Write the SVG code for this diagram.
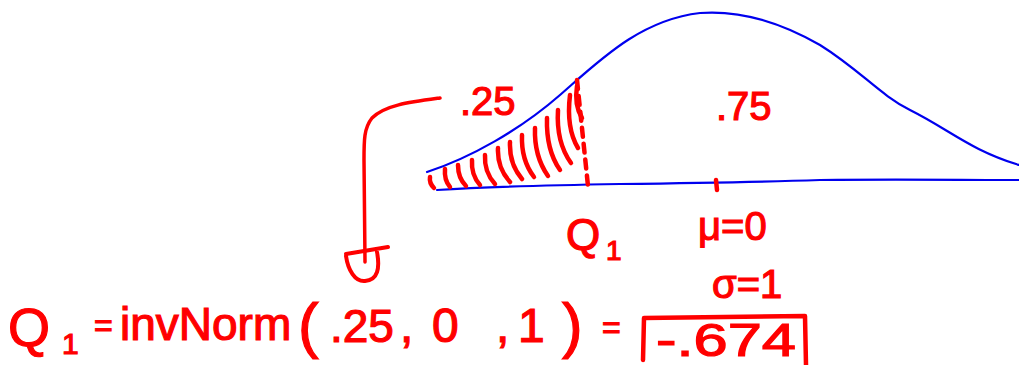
<svg xmlns="http://www.w3.org/2000/svg" width="1019" height="365" viewBox="0 0 1019 365">
<style>
.t{font-family:"Liberation Sans",Arial,sans-serif;fill:#ff0000;stroke:#ff0000;stroke-width:1.2}
.blue{fill:none;stroke:#0000ee;stroke-width:2.2;stroke-linecap:round;stroke-linejoin:round}
.red{fill:none;stroke:#ff0000;stroke-width:4.5;stroke-linecap:round;stroke-linejoin:round}
</style>
<rect width="1019" height="365" fill="#ffffff"/>
<g id="curve">
<path class="blue" d="M427,172 C470,158 520,130 560,95 C600,60 640,20 700,13 C740,10 780,22 820,45 C860,70 880,95 910,110 C950,130 970,150 1019,165"/>
<path class="blue" d="M437,190 C500,186 560,185 620,184 C700,183 760,182 820,180 C900,179 960,180 1019,180"/>
</g>
<g id="shading">
<path class="red" d="M430,177 Q429,183 434,188"/>
<path class="red" d="M445,169 Q444,180 450,187"/>
<path class="red" d="M458,165 Q458,178 466,186"/>
<path class="red" d="M472,160 Q471,175 480,185"/>
<path class="red" d="M485,155 Q484,172 495,184"/>
<path class="red" d="M498,148 Q497,168 510,182"/>
<path class="red" d="M510,142 Q509,164 522,179"/>
<path class="red" d="M522,135 Q521,160 534,177"/>
<path class="red" d="M535,128 Q534,156 548,176"/>
<path class="red" d="M547,118 Q546,150 560,170"/>
<path class="red" d="M558,110 Q556,142 571,163"/>
<path class="red" d="M570,95 Q566,128 578,148"/>
<path class="red" d="M577,86 Q574,105 582,118"/>
<path class="red" d="M577,80 L588,186" stroke-dasharray="9,7"/>
<path class="red" d="M716,180 L717,190"/>
</g>
<g id="connectors">
<path class="red" style="stroke-width:3.5" d="M440,98 C410,102 385,105 372,118 C364,128 364,140 364,160 L365,262"/>
<path class="red" style="stroke-width:4" d="M346,254 L388,247 M346,256 C348,270 355,282 365,281 C378,280 380,268 377,252"/>
</g>
<g id="label-025">
<text class="t" x="460" y="115" font-size="40">.25</text>
</g>
<g id="label-075">
<text class="t" x="716" y="120" font-size="40">.75</text>
</g>
<g id="label-q1">
<text class="t" x="566" y="250" font-size="44">Q</text>
<text class="t" x="606" y="260" font-size="28">1</text>
</g>
<g id="label-mu">
<text class="t" x="698" y="240" font-size="40">μ=0</text>
</g>
<g id="label-sigma">
<text class="t" x="712" y="298" font-size="40">σ=1</text>
</g>
<g id="formula">
<text class="t" x="8" y="346" font-size="54">Q</text>
<text class="t" x="62" y="354" font-size="30">1</text>
<text class="t" x="94" y="336" font-size="32">=</text>
<text class="t" x="120" y="340" font-size="46">invNorm</text>
<text class="t" x="298" y="346" font-size="62">(</text>
<text class="t" x="330" y="342" font-size="46">.25</text>
<text class="t" x="400" y="342" font-size="48">,</text>
<text class="t" x="432" y="342" font-size="48">0</text>
<text class="t" x="496" y="342" font-size="48">,</text>
<text class="t" x="518" y="342" font-size="48">1</text>
<text class="t" x="562" y="346" font-size="62">)</text>
<text class="t" x="602" y="338" font-size="32">=</text>
</g>
<g id="result">
<path class="red" d="M643,360 L644,318 L805,316 L806,365"/>
<text class="t" x="656" y="356" font-size="46" textLength="140" lengthAdjust="spacingAndGlyphs">-.674</text>
</g>
</svg>
